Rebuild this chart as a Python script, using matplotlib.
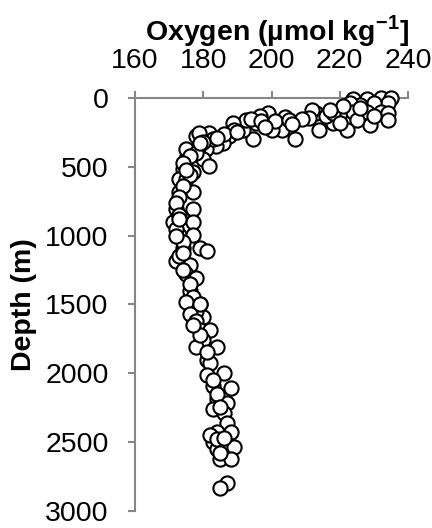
import numpy as np
import matplotlib
matplotlib.use("Agg")
import matplotlib.pyplot as plt

plt.rcParams['font.family'] = ['Liberation Sans', 'DejaVu Sans']
plt.rcParams['mathtext.fontset'] = 'custom'
plt.rcParams['mathtext.rm'] = 'Liberation Sans'
plt.rcParams['mathtext.bf'] = 'Liberation Sans:bold'

# oxygen (umol/kg) and depth (m)
oxygen = [224, 228, 232, 235, 234, 230, 226, 223, 220, 224, 228, 232, 234, 234,
          229, 225, 222, 218, 214, 213, 212, 216, 218, 211, 220,
          207, 203, 200, 204, 199, 196.5, 195.5, 194.5, 191.6, 192.5, 188.6,
          187.6, 185.7, 183.7, 181.8, 180.8, 178.8, 177.8, 178.8, 179.8, 181.8,
          177, 175, 175, 174, 173, 175, 173, 177, 172, 177, 171, 177, 173, 177,
          174, 179, 181, 172, 176, 175, 178, 176, 179, 176, 177, 180,
          194, 197, 201, 205, 189, 186, 183, 180, 178, 176, 174, 176, 174, 173,
          172, 173, 172, 174, 172, 173, 174, 176, 177, 178,
          175, 179, 176, 178, 179, 182, 180, 178, 184, 181, 182, 181, 186, 183,
          188, 184, 187, 183, 186, 187, 184, 188, 183, 184, 189, 185, 188, 187,
          185, 182, 184, 186, 185, 184, 185, 183, 181, 179, 177,
          226, 230, 221, 217, 209, 206, 198, 190, 184, 179, 175, 173, 174]
depth = [5, 5, 3, 2, 40, 40, 50, 40, 110, 100, 100, 100, 110, 160,
         195, 158, 230, 182, 230, 110, 86, 134, 110, 146, 182,
         300, 230, 230, 135, 110, 134, 182, 300, 230, 158, 182,
         278, 325, 349, 254, 373, 349, 278, 254, 445, 493,
         541, 445, 373, 517, 589, 589, 684, 684, 804, 804, 900, 900, 995, 995,
         1091, 1091, 1115, 1187, 1211, 1283, 1307, 1402, 1498, 1498, 1594, 1594,
         150, 170, 170, 160, 230, 260, 300, 320, 400, 420, 470, 560, 640, 720,
         760, 850, 950, 1050, 1000, 1150, 1250, 1350, 1450, 1550,
         1486, 1498, 1570, 1618, 1689, 1689, 1761, 1809, 1809, 1905, 1929, 2012,
         2000, 2096, 2108, 2192, 2216, 2264, 2288, 2360, 2431, 2431, 2503, 2551,
         2539, 2623, 2623, 2802, 2838,
         2450, 2480, 2470, 2580, 2150, 2250, 2050, 1850, 1720, 1650,
         70, 130, 60, 90, 150, 190, 210, 250, 290, 330, 520, 880, 1130]

x_ticks = [160, 180, 200, 220, 240]
y_ticks = [0, 500, 1000, 1500, 2000, 2500, 3000]

fig = plt.figure(figsize=(4.32, 5.28), dpi=100)
ax = fig.add_axes([0.3125, 0.033, 0.632, 0.7814])

ax.scatter(oxygen, depth, s=105, facecolor='white', edgecolor='black',
           linewidth=1.5, clip_on=False, zorder=3)

ax.set_xlim(160, 240)
ax.set_ylim(3000, 0)
ax.set_xticks(x_ticks)
ax.set_yticks(y_ticks)
ax.xaxis.tick_top()
ax.xaxis.set_label_position('top')

grey = '#868686'
for side in ['right', 'bottom']:
    ax.spines[side].set_visible(False)
for side in ['left', 'top']:
    ax.spines[side].set_color(grey)
    ax.spines[side].set_linewidth(1.5)
ax.tick_params(axis='both', color=grey, width=1.5, length=5, labelsize=20.5)
ax.tick_params(axis='y', pad=14)
ax.tick_params(axis='x', pad=12)

ax.set_xlabel(r'Oxygen (µmol kg$^{\mathbf{-1}}$]', fontsize=20.5, fontweight='bold')
ax.xaxis.set_label_coords(0.52, 1.14)
ax.set_ylabel('Depth (m)', fontsize=20.5, fontweight='bold')
ax.yaxis.set_label_coords(-0.36, 0.5)

fig.savefig('out.png', dpi=100)
